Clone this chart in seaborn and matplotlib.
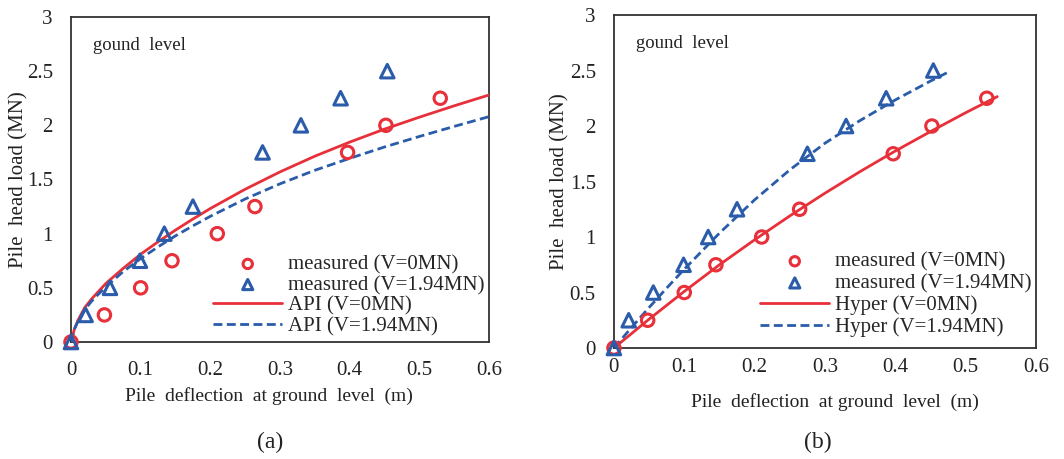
import matplotlib
matplotlib.use("Agg")
import numpy as np
import pandas as pd
import seaborn as sns
import matplotlib.pyplot as plt

# measured data (same in both panels)
meas0_x = [0, 0.048, 0.1, 0.145, 0.21, 0.264, 0.397, 0.452, 0.53]
meas0_y = [0, 0.25, 0.5, 0.75, 1.0, 1.25, 1.75, 2.0, 2.25]
meas194_x = [0, 0.021, 0.056, 0.099, 0.134, 0.175, 0.275, 0.33, 0.387, 0.454]
meas194_y = [0, 0.25, 0.5, 0.75, 1.0, 1.25, 1.75, 2.0, 2.25, 2.5]

# API curves, panel (a)
api_x = [0, 0.005, 0.01, 0.02, 0.03, 0.05, 0.075, 0.1, 0.125, 0.15, 0.175, 0.2,
         0.25, 0.3, 0.35, 0.4, 0.45, 0.5, 0.55, 0.6]
api0_y = [0, 0.12, 0.2, 0.32, 0.4, 0.54, 0.68, 0.81, 0.925, 1.033, 1.135, 1.232,
          1.41, 1.57, 1.715, 1.845, 1.965, 2.075, 2.18, 2.28]
api194_y = [0, 0.12, 0.19, 0.3, 0.38, 0.51, 0.65, 0.77, 0.878, 0.98, 1.072, 1.16,
            1.32, 1.46, 1.585, 1.695, 1.8, 1.897, 1.99, 2.08]

# Hyper curves, panel (b)
hyp0_x = [0, 0.05, 0.1, 0.15, 0.2, 0.25, 0.3, 0.35, 0.4, 0.45, 0.5, 0.545]
hyp0_y = [0, 0.26, 0.51, 0.75, 0.975, 1.19, 1.395, 1.59, 1.775, 1.95, 2.12, 2.265]
hyp194_x = [0, 0.025, 0.05, 0.075, 0.1, 0.15, 0.2, 0.25, 0.3, 0.35, 0.4, 0.45, 0.475]
hyp194_y = [0, 0.185, 0.365, 0.54, 0.71, 1.035, 1.335, 1.605, 1.845, 2.05, 2.235,
            2.405, 2.485]

xticks = [0, 0.1, 0.2, 0.3, 0.4, 0.5, 0.6]
xticklabels = ["0", "0.1", "0.2", "0.3", "0.4", "0.5", "0.6"]
yticks = [0, 0.5, 1, 1.5, 2, 2.5, 3]
yticklabels = ["0", "0.5", "1", "1.5", "2", "2.5", "3"]

RED = "#e8303a"
BLUE = "#2a5caa"

sns.set_style("white")
plt.rcParams["font.family"] = ["Liberation Serif", "DejaVu Serif"]
plt.rcParams["font.size"] = 15

fig = plt.figure(figsize=(10.64, 4.59), dpi=100)
ax_a = fig.add_axes([0.0667, 0.2549, 0.3929, 0.7081])
ax_b = fig.add_axes([0.577, 0.2418, 0.3967, 0.7255])


def draw_panel(ax, fit_name, fx0, fy0, fx1, fy1, xpad, ylpad, xlab_pos,
               leg_y, leg_space):
    m0 = pd.DataFrame({"x": meas0_x, "y": meas0_y})
    m1 = pd.DataFrame({"x": meas194_x, "y": meas194_y})
    sns.scatterplot(data=m0, x="x", y="y", ax=ax, marker="o", s=80,
                    facecolor="none", edgecolor=RED, linewidth=2.2,
                    label="measured (V=0MN)", clip_on=False, zorder=4)
    sns.scatterplot(data=m1, x="x", y="y", ax=ax, marker="^", s=95,
                    facecolor="none", edgecolor=BLUE, linewidth=2.2,
                    label="measured (V=1.94MN)", clip_on=False, zorder=4)
    sns.lineplot(x=fx0, y=fy0, ax=ax, color=RED, linewidth=2.0,
                 sort=False, estimator=None, label=fit_name + " (V=0MN)", zorder=3)
    sns.lineplot(x=fx1, y=fy1, ax=ax, color=BLUE, linewidth=2.0,
                 linestyle=(0, (3.2, 1.6)), sort=False, estimator=None,
                 label=fit_name + " (V=1.94MN)", zorder=3)

    ax.set_xlim(0, 0.6)
    ax.set_ylim(0, 3)
    ax.set_xticks(xticks)
    ax.set_xticklabels(xticklabels)
    ax.set_yticks(yticks)
    ax.set_yticklabels(yticklabels)
    ax.tick_params(direction="in", length=5, width=1.2, colors="#333333",
                   labelcolor="#222222", labelsize=15)
    ax.tick_params(axis="x", pad=xpad)
    ax.tick_params(axis="y", pad=13)
    for sp in ax.spines.values():
        sp.set_color("#333333")
        sp.set_linewidth(1.3)
    ax.set_xlabel("Pile  deflection  at ground  level  (m)", fontsize=14,
                  color="#222222")
    ax.xaxis.set_label_coords(*xlab_pos)
    ax.set_ylabel("Pile  head load (MN)", fontsize=15, color="#222222",
                  labelpad=ylpad)
    ax.text(0.032, 2.74, "gound  level", fontsize=13.5, color="#222222", va="center")
    ax.legend(loc="lower right", frameon=False, fontsize=15, handlelength=3.3,
              handletextpad=0.3, labelspacing=leg_space, markerscale=0.75,
              borderaxespad=0.0, bbox_to_anchor=(1.01, leg_y))


draw_panel(ax_a, "API", api_x, api0_y, api_x, api194_y,
           xpad=14, ylpad=-1, xlab_pos=(0.474, -0.138), leg_y=-0.008, leg_space=0.05)
draw_panel(ax_b, "Hyper", hyp0_x, hyp0_y, hyp194_x, hyp194_y,
           xpad=7, ylpad=0, xlab_pos=(0.524, -0.135), leg_y=0.008, leg_space=0.1)

fig.text(0.254, 0.035, "(a)", fontsize=17, ha="center", va="center", color="#222222")
fig.text(0.769, 0.035, "(b)", fontsize=17, ha="center", va="center", color="#222222")

fig.savefig("out.png", dpi=100)
